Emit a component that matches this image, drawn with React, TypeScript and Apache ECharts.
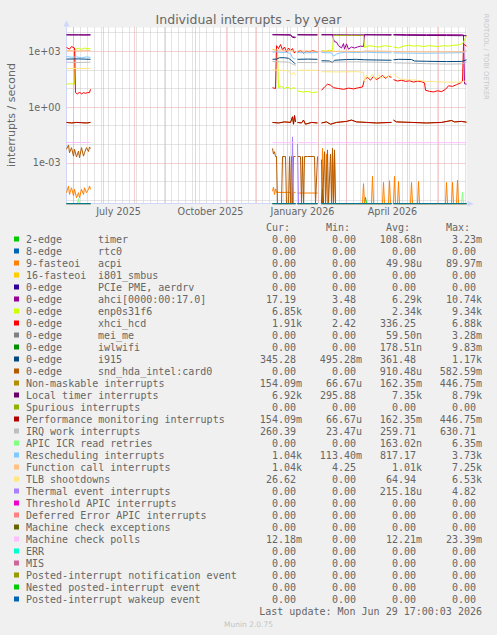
import React, { useEffect, useRef } from 'react';
import * as echarts from 'echarts';

// ---------- axes ----------
const FIRST_DAY = Date.UTC(2025, 4, 25);
const DAY_COUNT = 401;
const DAYS: string[] = Array.from({ length: DAY_COUNT }, (_, i) =>
  new Date(FIRST_DAY + i * 86400000).toISOString().slice(0, 10));

const X_TICK_DAYS = ['2025-07-16', '2025-10-16', '2026-01-16', '2026-04-16'];
const X_TICK_LABELS = ['July 2025', 'October 2025', 'January 2026', 'April 2026'];

const Y_TICK_EXPONENTS = [3, 0, -3];
const Y_TICK_LABELS = ['1e+03', '1e+00', '1e-03'];
const Y_MIN = 6.4e-6;
const Y_MAX = 1.9e4;

// ---------- data: [days since 2025-05-25, interrupts / second] per collected stretch ----------
type Seg = [number, number][];
const COVERAGE = [[0, 24], [206, 229], [231, 251], [255, 325], [327, 400]];

const TIMER: Seg[] = [[[298, 0], [299, 1.4e-5], [300, 0]]];
const ACPI: Seg[] = [
  [[0, 2.5e-5], [2, 5.7e-5], [3, 2.0e-5], [5, 4.6e-5], [7, 1.7e-5], [8, 3.8e-5], [10, 1.35e-5], [12, 2.5e-5], [13, 1.35e-5], [15, 3.8e-5], [17, 2.0e-5], [18, 4.6e-5], [20, 2.5e-5], [22, 3.8e-5], [23, 5.7e-5], [24, 3.8e-5]],
  [[206, 3e-5], [207, 5e-5], [208, 2e-5], [209, 4e-5], [210, 2.6e-5], [225, 2.6e-5], [226, 0], [227, 2.6e-5], [229, 2.6e-5]],
  [[231, 2.4e-5], [251, 2.4e-5]],
  [[255, 0], [256, 0.006], [257, 0], [259, 0], [260, 0.003], [261, 0], [265, 0], [266, 0.004], [267, 0], [268, 0.0035], [269, 0], [296, 0], [297, 7.6e-5], [298, 0], [305, 0], [306, 1.9e-4], [307, 0], [316, 0], [317, 9e-5], [318, 0], [322, 0], [323, 1.1e-4], [324, 0], [325, 0]],
  [[327, 0], [328, 1.9e-4], [329, 0], [331, 0], [332, 1e-4], [333, 0], [344, 0], [345, 9e-5], [346, 0], [351, 0], [352, 1e-4], [353, 0], [379, 0], [380, 9e-5], [381, 0], [385, 0], [386, 9e-5], [387, 0], [390, 0], [391, 1.2e-4], [392, 0], [400, 0]],
];
const AHCI: Seg[] = [
  [[0, 7800], [12, 7700], [24, 7800]],
  [[206, 7900], [224, 7800], [226, 6000], [229, 5800]],
  [[231, 7900], [251, 7800]],
  [[255, 7900], [266, 7800], [267, 4500], [268, 3300], [270, 3100], [272, 2000], [275, 1500], [277, 2600], [278, 1300], [280, 2500], [282, 1300], [285, 1700], [288, 1500], [291, 1700], [294, 1900], [297, 1800], [298, 7900], [310, 7800], [325, 7900]],
  [[327, 8000], [340, 7900], [360, 7800], [380, 7800], [396, 7700], [397, 7600], [398, 18], [400, 17.19]],
];
const ENP: Seg[] = [
  [[0, 17], [4, 18], [8, 17], [9, 1300], [12, 1450], [15, 1250], [18, 1500], [21, 1350], [24, 1400]],
  [[206, 1300], [208, 1200], [211, 1150], [212, 11], [215, 13], [218, 10], [221, 12], [224, 9.5], [227, 11], [229, 10]],
  [[231, 7.4], [236, 6.5], [241, 7], [246, 6], [251, 6.5]],
  [[255, 1100], [259, 1000], [263, 1150], [266, 1050], [267, 7000], [280, 7100], [297, 7000], [298, 1600], [303, 2000], [308, 1800], [313, 1700], [318, 2000], [325, 1800]],
  [[327, 1700], [332, 1500], [337, 1900], [342, 2100], [347, 1900], [352, 2000], [357, 1800], [362, 2000], [367, 1900], [372, 1800], [377, 2000], [382, 1900], [387, 2100], [392, 2200], [396, 2600], [398, 4000], [400, 6850]],
];
const XHCI: Seg[] = [
  [[0, 1600], [3, 1300], [5, 1800], [8, 1500], [9, 6], [11, 5], [13, 6.5], [15, 5], [17, 6], [19, 5.5], [21, 6], [23, 6], [24, 9]],
  [[206, 11], [209, 10], [210, 2000], [212, 1400], [214, 2300], [216, 1200], [218, 1700], [220, 900], [222, 1500], [224, 1100], [226, 1400], [228, 800], [229, 1000]],
  [[231, 900], [234, 1100], [237, 800], [240, 1000], [243, 900], [246, 1100], [251, 900]],
  [[255, 8], [258, 12], [261, 17], [264, 15], [267, 11], [272, 10], [277, 9], [282, 10.5], [287, 9.5], [292, 11], [296, 12], [298, 30], [301, 40], [304, 28], [307, 45], [310, 30], [313, 38], [316, 50], [319, 35], [322, 45], [325, 40]],
  [[327, 30], [331, 25], [335, 28], [339, 24], [343, 26], [347, 22], [351, 25], [355, 23], [358, 20], [359, 8], [363, 7], [367, 6.5], [371, 7.5], [375, 6.8], [379, 9], [382, 14], [386, 13], [390, 16], [394, 20], [396, 25], [397, 2400], [400, 1910]],
];
const IWLWIFI: Seg[] = [[[255, 0], [256, 3.9e-5], [257, 0]]];
const I915: Seg[] = [
  [[0, 380], [12, 390], [24, 370]],
  [[206, 370], [210, 380], [213, 450], [218, 450], [222, 420], [225, 320], [228, 230], [229, 210]],
  [[231, 370], [241, 380], [251, 370]],
  [[255, 310], [263, 300], [266, 250], [268, 330], [280, 360], [290, 370], [298, 350], [310, 340], [325, 330]],
  [[327, 350], [332, 370], [345, 360], [348, 300], [360, 290], [380, 280], [395, 285], [400, 345.28]],
];
const SND_HDA: Seg[] = [
  [[0, 0.0054], [2, 0.0092], [3, 0.0035], [5, 0.0066], [7, 0.0023], [8, 0.0054], [10, 0.0021], [12, 0.0043], [13, 0.0019], [15, 0.0066], [17, 0.0023], [18, 0.0035], [20, 0.0066], [22, 0.0041], [23, 0.0072], [24, 0.0059]],
  [[206, 0.006], [207, 0.003], [208, 0.004], [209, 0.0022], [210, 0.0022], [211, 0], [215, 0], [216, 0.0022], [219, 0.0022], [220, 0], [222, 0], [223, 0.0022], [224, 0], [225, 0.0022], [226, 0], [227, 0.0022], [229, 0.0022]],
  [[231, 0.0022], [234, 0.0022], [235, 0], [236, 0.0022], [237, 0], [238, 0.0022], [241, 0.0022], [248, 0.0022], [249, 0], [251, 0.0022]],
  [[255, 0.0015], [256, 0], [258, 0.004], [259, 0], [261, 0.005], [262, 0], [264, 0.003], [265, 0], [266, 0.006], [267, 0], [268, 0.005], [269, 0], [325, 0]],
  [[327, 0], [400, 0]],
];
const PERF_NMI: Seg[] = [
  [[0, 0.15], [5, 0.14], [10, 0.15], [15, 0.145], [20, 0.14], [24, 0.15]],
  [[206, 0.15], [212, 0.14], [218, 0.16], [224, 0.15], [226, 0.3], [227, 0.12], [228, 0.35], [229, 0.16]],
  [[231, 0.15], [235, 0.14], [237, 0.2], [239, 0.12], [245, 0.15], [251, 0.14]],
  [[255, 0.14], [260, 0.16], [264, 0.12], [270, 0.15], [280, 0.17], [285, 0.2], [290, 0.16], [300, 0.15], [310, 0.14], [325, 0.15]],
  [[327, 0.2], [330, 0.16], [345, 0.15], [360, 0.14], [375, 0.15], [385, 0.19], [388, 0.16], [395, 0.17], [400, 0.154]],
];
const LOCAL_TIMER: Seg[] = [
  [[0, 7600], [6, 7500], [12, 7600], [18, 7400], [24, 7500]],
  [[206, 7700], [212, 7600], [218, 7500], [224, 7400], [226, 5600], [228, 5400], [229, 5500]],
  [[231, 7600], [241, 7500], [251, 7500]],
  [[255, 7600], [270, 7700], [285, 7600], [300, 7600], [315, 7500], [325, 7400]],
  [[327, 7500], [340, 7200], [360, 7100], [380, 7000], [395, 6900], [400, 6920]],
];
const IRQ_WORK: Seg[] = [
  [[0, 260], [12, 250], [24, 260]],
  [[206, 280], [215, 270], [222, 260], [225, 220], [229, 170]],
  [[231, 250], [251, 245]],
  [[255, 260], [270, 265], [290, 270], [298, 265], [325, 250]],
  [[327, 240], [345, 230], [360, 215], [380, 205], [395, 210], [400, 260.39]],
];
const APIC_ICR: Seg[] = [[[11, 0], [12, 1.2e-5], [13, 0]], [[395, 0], [396, 2.6e-5], [397, 0]]];
const RESCHED: Seg[] = [
  [[0, 520], [5, 480], [10, 500], [15, 450], [20, 500], [24, 470]],
  [[206, 900], [210, 950], [215, 850], [220, 900], [224, 750], [226, 450], [228, 380], [229, 400]],
  [[231, 850], [241, 830], [251, 850]],
  [[255, 850], [265, 820], [267, 550], [270, 700], [273, 800], [280, 900], [290, 850], [298, 900], [310, 850], [325, 830]],
  [[327, 820], [340, 800], [355, 780], [370, 800], [385, 820], [396, 850], [400, 1040]],
];
const FUNC_CALL: Seg[] = [
  [[0, 1100], [12, 1050], [24, 1100]],
  [[206, 1200], [215, 1150], [225, 1100], [229, 1000]],
  [[231, 1050], [251, 1000]],
  [[255, 1000], [280, 1000], [297, 950], [298, 1050], [325, 1000]],
  [[327, 950], [360, 930], [396, 940], [400, 1040]],
];
const TLB: Seg[] = [
  [[0, 120], [12, 118], [24, 120]],
  [[206, 100], [215, 95], [222, 90], [225, 55], [227, 75], [229, 50]],
  [[231, 95], [251, 95]],
  [[255, 80], [270, 78], [290, 80], [297, 75], [298, 25], [300, 50], [303, 35], [306, 60], [309, 30], [312, 55], [315, 35], [318, 45], [321, 40], [325, 60]],
  [[327, 60], [330, 45], [334, 32], [340, 30], [350, 28], [360, 24], [370, 23], [380, 22], [390, 22], [396, 23], [400, 26.62]],
];
const THERMAL: Seg[] = [[[225, 0], [226, 0.025], [227, 0]], [[231, 0.0105], [232, 0]]];
const MC_POLLS: Seg[] = [
  [[0, 0.0125], [24, 0.0125]], [[206, 0.0122], [229, 0.0122]], [[231, 0.0122], [251, 0.0122]],
  [[255, 0.0122], [325, 0.0122]], [[327, 0.0122], [400, 0.0122]],
];
const ZERO: Seg[] = COVERAGE.map(([a, b]) => [[a, 0], [b, 0]] as Seg);

// ---------- legend ----------
const NAMES = ['2-edge', '8-edge', '9-fasteoi', '16-fasteoi', '0-edge', '0-edge', '0-edge', '0-edge', '0-edge', '0-edge', '0-edge', '0-edge',
  'Non-maskable interrupts', 'Local timer interrupts', 'Spurious interrupts', 'Performance monitoring interrupts', 'IRQ work interrupts',
  'APIC ICR read retries', 'Rescheduling interrupts', 'Function call interrupts', 'TLB shootdowns', 'Thermal event interrupts',
  'Threshold APIC interrupts', 'Deferred Error APIC interrupts', 'Machine check exceptions', 'Machine check polls', 'ERR', 'MIS',
  'Posted-interrupt notification event', 'Nested posted-interrupt event', 'Posted-interrupt wakeup event'];
const DEVICES = ['timer', 'rtc0', 'acpi', 'i801_smbus', 'PCIe PME, aerdrv', 'ahci[0000:00:17.0]', 'enp0s31f6', 'xhci_hcd', 'mei_me', 'iwlwifi', 'i915', 'snd_hda_intel:card0',
  '', '', '', '', '', '', '', '', '', '', '', '', '', '', '', '', '', '', ''];
const COLORS = ['#00CC00', '#0066B3', '#FF8000', '#FFCC00', '#330099', '#990099', '#CCFF00', '#FF0000', '#808080', '#008F00', '#00487D', '#B35A00',
  '#B38F00', '#6B006B', '#8FB300', '#B30000', '#BEBEBE', '#80FF80', '#80C9FF', '#FFC080', '#FFE680', '#AA80FF',
  '#EE00CC', '#FF8080', '#666600', '#FFBFFF', '#00FFCC', '#CC6699', '#999900', '#00CC00', '#0066B3'];
const DATA: Seg[][] = [TIMER, ZERO, ACPI, ZERO, ZERO, AHCI, ENP, XHCI, ZERO, IWLWIFI, I915, SND_HDA,
  PERF_NMI, LOCAL_TIMER, ZERO, PERF_NMI, IRQ_WORK, APIC_ICR, RESCHED, FUNC_CALL, TLB, THERMAL,
  ZERO, ZERO, ZERO, MC_POLLS, ZERO, ZERO, ZERO, ZERO, ZERO];
const CUR = ['0.00', '0.00', '0.00', '0.00', '0.00', '17.19', '6.85k', '1.91k', '0.00', '0.00', '345.28', '0.00',
  '154.09m', '6.92k', '0.00', '154.09m', '260.39', '0.00', '1.04k', '1.04k', '26.62', '0.00',
  '0.00', '0.00', '0.00', '12.18m', '0.00', '0.00', '0.00', '0.00', '0.00'];
const MIN = ['0.00', '0.00', '0.00', '0.00', '0.00', '3.48', '0.00', '2.42', '0.00', '0.00', '495.28m', '0.00',
  '66.67u', '295.88', '0.00', '66.67u', '23.47u', '0.00', '113.40m', '4.25', '0.00', '0.00',
  '0.00', '0.00', '0.00', '0.00', '0.00', '0.00', '0.00', '0.00', '0.00'];
const AVG = ['108.68n', '0.00', '49.98u', '0.00', '0.00', '6.29k', '2.34k', '336.25', '59.50n', '178.51n', '361.48', '910.48u',
  '162.35m', '7.35k', '0.00', '162.35m', '259.71', '163.02n', '817.17', '1.01k', '64.94', '215.18u',
  '0.00', '0.00', '0.00', '12.21m', '0.00', '0.00', '0.00', '0.00', '0.00'];
const MAX = ['3.23m', '0.00', '89.97m', '0.00', '0.00', '10.74k', '9.34k', '6.88k', '3.28m', '9.83m', '1.17k', '582.59m',
  '446.75m', '8.79k', '0.00', '446.75m', '630.71', '6.35m', '3.73k', '7.25k', '6.53k', '4.82',
  '0.00', '0.00', '0.00', '23.39m', '0.00', '0.00', '0.00', '0.00', '0.00'];
const HEADERS = ['Cur:', 'Min:', 'Avg:', 'Max:'];
const TITLE = 'Individual interrupts - by year';
const Y_NAME = 'interrupts / second';
const LAST_UPDATE = 'Last update: Mon Jun 29 17:00:03 2026';
const FOOTER = 'Munin 2.0.75';
const WATERMARK = 'RRDTOOL / TOBI OETIKER';

// ---------- layout ----------
const MONO = '"DejaVu Sans Mono", monospace';
const SANS = '"DejaVu Sans", sans-serif';
const FONT_COLOR = '#666666';
const MINOR_GRID = '#c8c8c8';
const MAJOR_GRID = '#eaa0a0';
const ROW_Y0 = 239;
const ROW_H = 12;
const TEXT_X = 26;
const CH = 6;

function toSeries(segs: Seg[]) {
  const out: any[] = [];
  segs.forEach((seg, k) => {
    if (k > 0) out.push([DAYS[seg[0][0] - 1], null]);
    seg.forEach(([d, v]) => out.push([DAYS[d], v <= 0 ? Y_MIN : v]));
  });
  return out;
}

function monoText(text: string, x: number, y: number, align: string) {
  return {
    type: 'text', x, y, silent: true,
    style: { text, fill: FONT_COLOR, fontSize: 10, fontFamily: MONO, align, verticalAlign: 'middle' },
  };
}

function buildGraphic() {
  const els: any[] = [];
  HEADERS.forEach((h, k) => els.push(monoText(h, TEXT_X + CH * (40 + 10 * k), ROW_Y0 - ROW_H, 'left')));
  NAMES.forEach((name, i) => {
    const y = ROW_Y0 + ROW_H * i;
    els.push({ type: 'rect', silent: true, shape: { x: 14, y: y - 2.5, width: 5, height: 5 }, style: { fill: COLORS[i] } });
    els.push(monoText(name, TEXT_X, y, 'left'));
    if (DEVICES[i]) els.push(monoText(DEVICES[i], TEXT_X + CH * 12, y, 'left'));
    [CUR[i], MIN[i], AVG[i], MAX[i]].forEach((v, k) => {
      const hasUnit = /[a-zA-Z]$/.test(v);
      els.push(monoText(v, TEXT_X + CH * (45 + 10 * k) + (hasUnit ? CH : 0), y, 'right'));
    });
  });
  els.push(monoText(LAST_UPDATE, TEXT_X + CH * 76, ROW_Y0 + ROW_H * NAMES.length, 'right'));
  els.push({
    type: 'text', x: 248.5, y: 624, silent: true,
    style: { text: FOOTER, fill: '#c4c4c4', fontSize: 7.5, fontFamily: SANS, align: 'center', verticalAlign: 'middle' },
  });
  els.push({
    type: 'text', x: 11, y: 115, rotation: Math.PI / 2, silent: true,
    style: { text: Y_NAME, fill: FONT_COLOR, fontSize: 11, fontFamily: SANS, align: 'center', verticalAlign: 'middle' },
  });
  els.push({
    type: 'text', x: 485.7, y: 56.7, rotation: -Math.PI / 2, silent: true,
    style: { text: WATERMARK, fill: '#c8c8c8', fontSize: 6.7, fontFamily: SANS, align: 'center', verticalAlign: 'middle' },
  });
  return els;
}

export default function App() {
  const ref = useRef<HTMLDivElement>(null);
  useEffect(() => {
    if (!ref.current) return;
    const chart = echarts.init(ref.current, undefined, { renderer: 'svg' });
    const tickMap = new Map(X_TICK_DAYS.map((d, i) => [d, X_TICK_LABELS[i]]));
    const axisLineStyle = { color: '#CFD6F8', width: 1 };
    const option: any = {
      animation: false,
      backgroundColor: '#f0f0f0',
      textStyle: { fontFamily: SANS },
      title: {
        text: TITLE, left: 'center', top: 12.5, padding: 0,
        textStyle: { color: FONT_COLOR, fontSize: 12.5, fontWeight: 'normal', fontFamily: SANS },
      },
      grid: { left: 66.5, top: 27.5, width: 400, height: 176.2, show: true, backgroundColor: '#ffffff', borderWidth: 0 },
      xAxis: [
        {
          type: 'category', data: DAYS, boundaryGap: false, position: 'bottom',
          axisLine: { show: true, lineStyle: axisLineStyle, symbol: ['none', 'triangle'], symbolSize: [6, 6], symbolOffset: [0, 4] },
          axisTick: { show: false },
          axisLabel: {
            interval: (_i: number, v: string) => tickMap.has(v),
            formatter: (v: string) => tickMap.get(v) || '',
            color: FONT_COLOR, fontSize: 9.6, fontFamily: SANS, margin: 3,
          },
          splitLine: {
            show: true,
            interval: (_i: number, v: string) => new Date(v + 'T00:00:00Z').getUTCDay() === 0,
            lineStyle: { color: MINOR_GRID, width: 1, type: [1, 1] },
          },
        },
        {
          type: 'category', data: DAYS, boundaryGap: false, position: 'top',
          axisLine: { show: false }, axisTick: { show: false }, axisLabel: { show: false },
          splitLine: {
            show: true,
            interval: (_i: number, v: string) => v.endsWith('-01'),
            lineStyle: { color: MAJOR_GRID, width: 1, type: [1, 1] },
          },
        },
      ],
      yAxis: {
        type: 'log', logBase: 10, min: Y_MIN, max: Y_MAX, splitNumber: 10,
        axisLine: { show: true, lineStyle: axisLineStyle, symbol: ['none', 'triangle'], symbolSize: [6, 6], symbolOffset: [0, 4] },
        axisTick: { show: false },
        axisLabel: {
          color: FONT_COLOR, fontSize: 9.6, fontFamily: SANS, margin: 6, padding: [2, 0, 0, 0],
          showMinLabel: false, showMaxLabel: false,
          formatter: (v: number) => {
            const lg = Math.log10(v);
            const e = Math.round(lg);
            if (Math.abs(lg - e) > 1e-6) return '';
            const idx = Y_TICK_EXPONENTS.indexOf(e);
            return idx >= 0 ? Y_TICK_LABELS[idx] : '';
          },
        },
        splitLine: {
          show: true, showMinLine: false, showMaxLine: false,
          lineStyle: { color: [MINOR_GRID, MINOR_GRID, MAJOR_GRID], width: 1, type: [1, 1] },
        },
      },
      series: DATA.map((segs, i) => ({
        type: 'line',
        name: NAMES[i] + (DEVICES[i] ? ' ' + DEVICES[i] : ''),
        data: toSeries(segs),
        xAxisIndex: 0, yAxisIndex: 0,
        showSymbol: false, symbol: 'none', connectNulls: false, silent: true,
        lineStyle: { width: 1, color: COLORS[i] }, itemStyle: { color: COLORS[i] },
        emphasis: { disabled: true },
      })),
      graphic: buildGraphic(),
    };
    chart.setOption(option);
    return () => chart.dispose();
  }, []);
  return <div ref={ref} style={{ position: 'fixed', left: 0, top: 0, width: 497, height: 635 }} />;
}
